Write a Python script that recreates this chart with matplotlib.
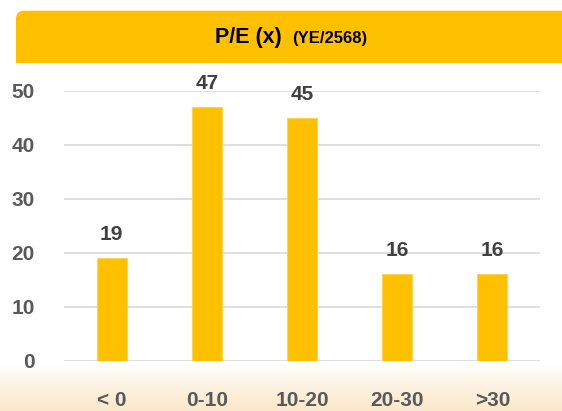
import matplotlib
matplotlib.use('Agg')
import matplotlib.pyplot as plt
import matplotlib.patches as patches
import numpy as np

# chart data
categories = ['< 0', '0-10', '10-20', '20-30', '>30']
values = [19, 47, 45, 16, 16]
y_ticks = [0, 10, 20, 30, 40, 50]

W, H = 562, 411
bar_color = '#FFC000'
text_color = '#404040'
tick_color = '#595959'
fam = ['Liberation Sans', 'DejaVu Sans']

fig = plt.figure(figsize=(W / 100, H / 100), dpi=100)
fig.patch.set_facecolor('white')

# peach gradient strip at the bottom
bg = fig.add_axes([0, 0, 1, 1], zorder=0)
grad = np.linspace(0, 1, 256)
top_col = np.array([1.0, 1.0, 1.0])
bot_col = np.array([0.985, 0.91, 0.79])
img = np.zeros((256, 1, 3))
for i in range(3):
    img[:, 0, i] = top_col[i] + (bot_col[i] - top_col[i]) * grad ** 0.8
bg.imshow(img, extent=[0, W, 0, 44], aspect='auto', origin='upper')
bg.set_xlim(0, W)
bg.set_ylim(0, H)
bg.set_axis_off()

# header bar, rounded top-left corner
hdr = patches.FancyBboxPatch((16, 330), W + 40, 70.3,
                             boxstyle='round,pad=0,rounding_size=8',
                             facecolor=bar_color, edgecolor='none')
bg.add_patch(hdr)
bg.add_patch(patches.Rectangle((16, 347.7), W, 20, facecolor=bar_color,
                               edgecolor='none'))
bg.add_patch(patches.Rectangle((0, 300), W, 47.7, facecolor='white',
                               edgecolor='none'))
bg.text(282, 367.5, 'P/E (x)', ha='right', va='baseline', fontsize=15.5,
        fontweight='bold', family=fam, color='black')
bg.text(292, 367.5, '(YE/2568)', ha='left', va='baseline', fontsize=12,
        fontweight='bold', family=fam, color='black')

# main chart
ax = fig.add_axes([64 / W, 50.3 / H, 476 / W, 270 / H], zorder=2)
ax.patch.set_alpha(0)
x = np.arange(len(categories))
ax.bar(x, values, width=0.315, color=bar_color, zorder=3,
       edgecolor='#FFD24D', linewidth=0.6)
for xi, v in zip(x, values):
    ax.annotate(str(v), (xi, v), xytext=(0, 13), textcoords='offset points',
                ha='center', va='baseline', fontsize=15, fontweight='bold',
                family=fam, color=text_color, annotation_clip=False)

ax.set_xlim(-0.5, len(categories) - 0.5)
ax.set_ylim(0, 50)
ax.set_yticks(y_ticks)
ax.set_xticks(x)
ax.set_xticklabels(categories)
ax.yaxis.grid(True, color='#D9D9D9', linewidth=1.2, zorder=0)
ax.set_axisbelow(True)
for s in ax.spines.values():
    s.set_visible(False)
ax.tick_params(axis='both', length=0, colors=tick_color, labelsize=15)
ax.tick_params(axis='y', pad=21)
ax.tick_params(axis='x', pad=22)
for lbl in ax.get_xticklabels() + ax.get_yticklabels():
    lbl.set_fontweight('bold')
    lbl.set_family(fam)

fig.savefig('out.png', dpi=100)
